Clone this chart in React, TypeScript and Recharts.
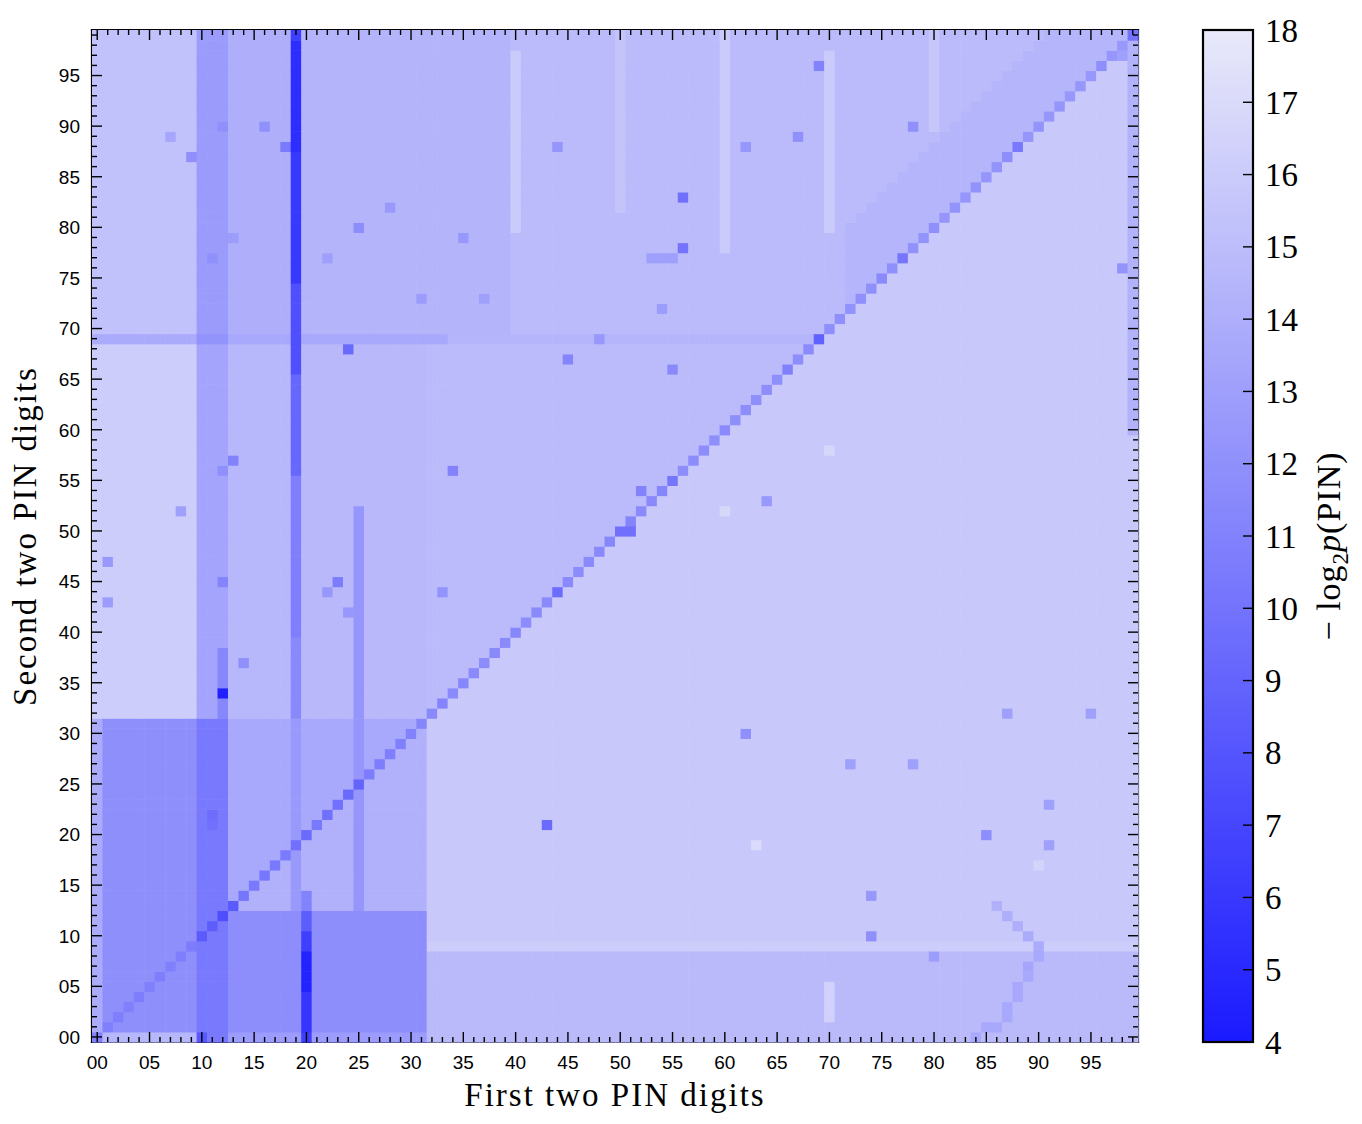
import React from "react";
import { ScatterChart, Scatter, XAxis, YAxis, ReferenceArea, Label } from "recharts";

// ---------- categories / ticks ----------
const PIN_PAIRS: number[] = Array.from({ length: 100 }, (_, i) => i); // 00 .. 99
const AXIS_TICK_LABELS = ["00", "05", "10", "15", "20", "25", "30", "35", "40", "45", "50", "55", "60", "65", "70", "75", "80", "85", "90", "95"];
const COLORBAR_TICKS = [4, 5, 6, 7, 8, 9, 10, 11, 12, 13, 14, 15, 16, 17, 18];
const COLOR_MIN = 4;
const COLOR_MAX = 18;
const COLOR_LOW = [26, 26, 255];
const COLOR_HIGH = [233, 233, 250];

// ---------- values of -log2 p(PIN) ----------
const BASE_ABOVE_DIAGONAL = 14.9; // second pair > first pair
const BASE_BELOW_DIAGONAL = 15.8; // second pair < first pair

// [x0, x1, y0, y1, value, side] (inclusive ranges; applied in order)
const REGIONS: Array<[number, number, number, number, number, string]> = [
  [0, 9, 69, 99, 15.3, "all"],
  [0, 9, 32, 68, 16.1, "all"],
  [10, 12, 70, 99, 12.7, "all"],
  [10, 12, 32, 69, 13.3, "all"],
  [12, 12, 32, 38, 11.4, "all"],
  [13, 18, 70, 99, 14.0, "all"],
  [13, 18, 32, 69, 14.6, "all"],
  [20, 39, 70, 99, 14.4, "above"],
  [20, 31, 32, 69, 14.7, "above"],
  [13, 31, 13, 31, 13.6, "above"],
  [13, 31, 13, 31, 14.2, "below"],
  [0, 0, 1, 31, 13.8, "all"],
  [1, 9, 1, 31, 11.9, "all"],
  [1, 9, 0, 0, 14.6, "all"],
  [10, 12, 0, 31, 10.4, "all"],
  [13, 31, 1, 12, 11.8, "all"],
  [13, 31, 0, 0, 12.8, "all"],
  [25, 25, 13, 52, 12.3, "all"],
  [32, 99, 0, 8, 14.8, "all"],
  [32, 99, 9, 9, 16.1, "all"],
  [0, 9, 69, 69, 13.8, "all"],
  [10, 12, 69, 69, 12.2, "all"],
  [13, 33, 69, 69, 13.6, "all"],
  [34, 68, 69, 69, 14.5, "all"],
  [40, 40, 80, 97, 15.9, "all"],
  [50, 50, 82, 99, 15.5, "all"],
  [60, 60, 78, 99, 16.0, "all"],
  [70, 70, 80, 97, 16.0, "all"],
  [80, 80, 90, 99, 15.6, "all"],
  [99, 99, 60, 99, 14.3, "all"],
  [19, 19, 13, 31, 12.6, "all"],
  [19, 19, 32, 39, 11.5, "all"],
  [19, 19, 40, 55, 10.8, "all"],
  [19, 19, 56, 65, 9.2, "all"],
  [19, 19, 66, 74, 7.6, "all"],
  [19, 19, 75, 87, 6.0, "all"],
  [19, 19, 88, 98, 5.3, "all"],
  [19, 19, 99, 99, 6.5, "all"],
  [20, 20, 0, 0, 6.5, "all"],
  [20, 20, 1, 4, 5.8, "all"],
  [20, 20, 5, 8, 4.6, "all"],
  [20, 20, 9, 10, 6.5, "all"],
  [20, 20, 11, 12, 8.5, "all"],
  [20, 20, 13, 14, 11.0, "all"],
];

// [x0, x1, minimum (y - x), maximum (y - x), value]
const DIAGONAL_BANDS: Array<[number, number, number, number, number]> = [
  [72, 99, 1, 8, 14.5],
];

// value of the cell (i, i)
const DIAGONAL_VALUES = [
  11.0, 10.9, 10.8, 10.9, 10.7, 10.9, 10.8, 10.9, 10.8, 10.6,
  8.4, 8.5, 7.5, 8.3, 10.2, 10.4, 10.3, 10.4, 10.5, 9.8,
  9.4, 10.4, 9.8, 9.9, 9.4, 9.0, 10.6, 10.7, 10.8, 10.9,
  11.0, 11.3, 11.5, 11.2, 11.6, 11.4, 11.6, 11.7, 11.5, 11.6,
  11.4, 11.7, 11.6, 11.6, 9.6, 11.5, 11.7, 11.6, 11.5, 11.4,
  9.8, 11.2, 11.6, 11.5, 11.3, 10.2, 11.8, 11.7, 11.8, 11.9,
  11.6, 11.9, 11.8, 11.9, 11.8, 11.9, 10.9, 11.8, 11.6, 8.8,
  11.9, 12.0, 12.1, 12.0, 12.0, 11.6, 12.0, 10.2, 12.1, 12.2,
  12.0, 12.3, 12.2, 12.3, 12.1, 12.3, 12.2, 11.8, 10.4, 12.3,
  12.2, 12.4, 12.3, 12.5, 12.4, 12.5, 11.9, 12.4, 12.5, 10.0,
];

// [x, y, value] single cells that stand out
const CELL_SPOTS: Array<[number, number, number]> = [
  [12, 34, 4.4], [24, 68, 9.4], [18, 88, 10.5], [9, 87, 12.0], [16, 90, 12.0],
  [25, 80, 11.8], [23, 45, 10.6], [13, 57, 11.0], [12, 45, 11.2], [34, 56, 11.0],
  [52, 54, 11.0], [45, 67, 11.2], [55, 66, 11.5], [56, 83, 9.8], [56, 78, 10.0],
  [43, 21, 9.4], [62, 30, 12.0], [74, 10, 12.0], [85, 20, 11.8], [63, 19, 17.0],
  [69, 96, 11.0], [67, 89, 12.0], [78, 90, 12.0], [62, 88, 12.4], [98, 76, 12.2],
  [51, 50, 9.8], [10, 0, 8.2], [11, 21, 9.8], [11, 22, 9.6], [1, 47, 12.6],
  [33, 44, 12.2], [64, 53, 12.6], [0, 0, 11.0], [44, 88, 12.3], [35, 79, 12.5],
  [53, 77, 13.0], [54, 77, 13.0], [55, 77, 13.0], [48, 69, 12.5], [37, 73, 13.0],
  [54, 72, 12.8], [98, 97, 13.0], [1, 43, 12.8], [8, 52, 13.0], [22, 44, 12.5],
  [24, 42, 12.5], [14, 37, 12.0], [12, 56, 12.0], [28, 82, 12.6], [31, 73, 12.8],
  [13, 79, 12.8], [12, 90, 12.0], [22, 77, 13.0], [11, 77, 12.0], [7, 89, 13.5],
  [74, 14, 12.5], [80, 8, 12.8], [91, 19, 13.0], [91, 23, 13.0], [72, 27, 13.0],
  [78, 27, 13.0], [87, 32, 13.0], [95, 32, 13.0], [60, 52, 16.8], [70, 58, 16.8],
  [90, 17, 16.6], [70, 2, 16.4], [70, 3, 16.4], [70, 4, 16.4], [70, 5, 16.4],
  [84, 0, 13.6], [85, 1, 13.6], [86, 1, 13.6], [87, 2, 13.6], [87, 3, 13.6],
  [88, 4, 13.6], [88, 5, 13.6], [89, 6, 13.6], [89, 7, 13.4], [90, 8, 13.6],
  [90, 9, 13.8], [89, 10, 13.8], [88, 11, 14.0], [87, 12, 14.0], [86, 13, 14.2],
];

// ---------- layout ----------
const CHART_W = 1346;
const CHART_H = 1106;
const PLOT_LEFT = 84;
const PLOT_TOP = 22;
const PLOT_W = 1046;
const PLOT_H = 1012;
const CELL_W = PLOT_W / 100;
const CELL_H = PLOT_H / 100;
const CBAR_W = 222;

const SANS = "'Liberation Sans', Arial, Helvetica, sans-serif";
const SERIF = "'Liberation Serif', 'Times New Roman', serif";

function colorFor(v: number): string {
  let t = (v - COLOR_MIN) / (COLOR_MAX - COLOR_MIN);
  t = Math.max(0, Math.min(1, t));
  const c = COLOR_LOW.map((lo, k) => Math.round(lo + (COLOR_HIGH[k] - lo) * t));
  return `rgb(${c[0]},${c[1]},${c[2]})`;
}

function cellValue(x: number, y: number): number {
  let v = y > x ? BASE_ABOVE_DIAGONAL : BASE_BELOW_DIAGONAL;
  for (const [x0, x1, d0, d1, val] of DIAGONAL_BANDS) {
    const d = y - x;
    if (x >= x0 && x <= x1 && d >= d0 && d <= d1) v = val;
  }
  for (const [x0, x1, y0, y1, val, side] of REGIONS) {
    if (x < x0 || x > x1 || y < y0 || y > y1) continue;
    if (side === "above" && !(y > x)) continue;
    if (side === "below" && !(y < x)) continue;
    v = val;
  }
  if (x === y) v = DIAGONAL_VALUES[x];
  for (const [sx, sy, val] of CELL_SPOTS) {
    if (sx === x && sy === y) v = val;
  }
  return v;
}

const CELLS = PIN_PAIRS.flatMap((x) =>
  PIN_PAIRS.map((y) => ({ x: x + 0.5, y: y + 0.5, v: cellValue(x, y) }))
);

const AXIS_TICKS = PIN_PAIRS.map((d) => d + 0.5);
const FRAME_POINTS = [{ x: 0.5, y: 0.5 }, { x: 99.5, y: 99.5 }];
const COLORBAR_POINTS = COLORBAR_TICKS.map((v) => ({ x: 0.5, y: v }));

const renderCell = (props: any) => {
  const { cx, cy, payload } = props;
  if (cx == null || cy == null) return <g />;
  return (
    <rect
      x={cx - CELL_W / 2}
      y={cy - CELL_H / 2}
      width={CELL_W + 0.6}
      height={CELL_H + 0.6}
      fill={colorFor(payload.v)}
    />
  );
};

const renderNothing = () => <g />;

function tickIndex(value: number) {
  return Math.round(value - 0.5);
}

const BottomTick = (props: any) => {
  const { x, y, payload } = props;
  const i = tickIndex(payload.value);
  const major = i % 5 === 0;
  return (
    <g>
      <line x1={x} y1={y} x2={x} y2={y - (major ? 10 : 5)} stroke="#000" strokeWidth={1.4} />
      {major && (
        <text x={x} y={y + 27} textAnchor="middle" fontFamily={SANS} fontSize={19} fill="#000">
          {AXIS_TICK_LABELS[i / 5]}
        </text>
      )}
    </g>
  );
};

const TopTick = (props: any) => {
  const { x, y, payload } = props;
  const i = tickIndex(payload.value);
  const major = i % 5 === 0;
  return <line x1={x} y1={y} x2={x} y2={y + (major ? 10 : 5)} stroke="#000" strokeWidth={1.4} />;
};

const LeftTick = (props: any) => {
  const { x, y, payload } = props;
  const i = tickIndex(payload.value);
  const major = i % 5 === 0;
  return (
    <g>
      <line x1={x} y1={y} x2={x + (major ? 10 : 5)} y2={y} stroke="#000" strokeWidth={1.4} />
      {major && (
        <text x={x - 12} y={y} dy="0.36em" textAnchor="end" fontFamily={SANS} fontSize={19} fill="#000">
          {AXIS_TICK_LABELS[i / 5]}
        </text>
      )}
    </g>
  );
};

const RightTick = (props: any) => {
  const { x, y, payload } = props;
  const i = tickIndex(payload.value);
  const major = i % 5 === 0;
  return <line x1={x} y1={y} x2={x - (major ? 10 : 5)} y2={y} stroke="#000" strokeWidth={1.4} />;
};

const ColorbarTick = (props: any) => {
  const { x, y, payload } = props;
  return (
    <g>
      <line x1={x} y1={y} x2={x - 10} y2={y} stroke="#000" strokeWidth={1.4} />
      <text x={x + 12} y={y} dy="0.35em" textAnchor="start" fontFamily={SERIF} fontSize={33} fill="#000">
        {payload.value}
      </text>
    </g>
  );
};

const XTitle = (props: any) => {
  const vb = props.viewBox || {};
  return (
    <text
      x={vb.x + vb.width / 2}
      y={vb.y + vb.height}
      textAnchor="middle"
      fontFamily={SERIF}
      fontSize={33}
      letterSpacing={2}
      fill="#000"
    >
      First two PIN digits
    </text>
  );
};

const YTitle = (props: any) => {
  const vb = props.viewBox || {};
  const cx = vb.x + 14;
  const cy = vb.y + vb.height / 2;
  return (
    <text
      x={cx}
      y={cy}
      transform={`rotate(-90 ${cx} ${cy})`}
      textAnchor="middle"
      fontFamily={SERIF}
      fontSize={33}
      letterSpacing={2}
      fill="#000"
    >
      Second two PIN digits
    </text>
  );
};

const ColorbarTitle = (props: any) => {
  const vb = props.viewBox || {};
  const cx = vb.x + 87;
  const cy = vb.y + vb.height / 2 + 10;
  return (
    <text
      x={cx}
      y={cy}
      transform={`rotate(-90 ${cx} ${cy})`}
      textAnchor="middle"
      fontFamily={SERIF}
      fontSize={34}
      letterSpacing={1}
      fill="#000"
    >
      <tspan>− log</tspan>
      <tspan fontSize={23} dy={8}>2</tspan>
      <tspan dy={-8} fontStyle="italic">p</tspan>
      <tspan>(PIN)</tspan>
    </text>
  );
};

const ColorbarShape = (props: any) => {
  const { x, y, width, height } = props;
  return (
    <g>
      <defs>
        <linearGradient id="cbarGradient" x1="0" y1="1" x2="0" y2="0">
          {COLORBAR_TICKS.map((v) => (
            <stop
              key={v}
              offset={`${((v - COLOR_MIN) / (COLOR_MAX - COLOR_MIN)) * 100}%`}
              stopColor={colorFor(v)}
            />
          ))}
        </linearGradient>
      </defs>
      <rect x={x} y={y} width={width} height={height} fill="url(#cbarGradient)" stroke="#000" strokeWidth={2.2} />
    </g>
  );
};

const axisLineStyle = { stroke: "#000", strokeWidth: 2.2, strokeLinecap: "square" as const };

export default function App() {
  return (
    <div style={{ position: "relative", width: CHART_W, height: CHART_H, background: "#fff" }}>
      <ScatterChart
        width={CHART_W}
        height={CHART_H}
        margin={{ top: PLOT_TOP - 2, right: CHART_W - PLOT_LEFT - PLOT_W - 2, bottom: 8, left: 14 }}
      >
        <Scatter data={CELLS} shape={renderCell} isAnimationActive={false} />
        <Scatter data={FRAME_POINTS} xAxisId="top" yAxisId="right" shape={renderNothing} isAnimationActive={false} />
        <XAxis
          xAxisId={0}
          type="number"
          dataKey="x"
          domain={[0, 100]}
          ticks={AXIS_TICKS}
          interval={0}
          tick={BottomTick}
          tickSize={0}
          tickMargin={0}
          tickLine={false}
          axisLine={axisLineStyle}
          height={CHART_H - 8 - (PLOT_TOP + PLOT_H)}
        >
          <Label content={XTitle} />
        </XAxis>
        <XAxis
          xAxisId="top"
          orientation="top"
          type="number"
          dataKey="x"
          domain={[0, 100]}
          ticks={AXIS_TICKS}
          interval={0}
          tick={TopTick}
          tickSize={0}
          tickMargin={0}
          tickLine={false}
          axisLine={axisLineStyle}
          height={2}
        />
        <YAxis
          yAxisId={0}
          type="number"
          dataKey="y"
          domain={[0, 100]}
          ticks={AXIS_TICKS}
          interval={0}
          tick={LeftTick}
          tickSize={0}
          tickMargin={0}
          tickLine={false}
          axisLine={axisLineStyle}
          width={PLOT_LEFT - 14}
        >
          <Label content={YTitle} />
        </YAxis>
        <YAxis
          yAxisId="right"
          orientation="right"
          type="number"
          dataKey="y"
          domain={[0, 100]}
          ticks={AXIS_TICKS}
          interval={0}
          tick={RightTick}
          tickSize={0}
          tickMargin={0}
          tickLine={false}
          axisLine={axisLineStyle}
          width={2}
        />
      </ScatterChart>
      <div style={{ position: "absolute", left: PLOT_LEFT + PLOT_W, top: 0 }}>
        <ScatterChart
          width={CBAR_W}
          height={CHART_H}
          margin={{ top: PLOT_TOP, right: CBAR_W - 65 - 50 - 100, bottom: CHART_H - PLOT_TOP - PLOT_H, left: 65 }}
        >
          <XAxis type="number" dataKey="x" domain={[0, 1]} hide />
          <YAxis
            orientation="right"
            type="number"
            dataKey="y"
            domain={[COLOR_MIN, COLOR_MAX]}
            ticks={COLORBAR_TICKS}
            interval={0}
            tick={ColorbarTick}
            tickSize={0}
            tickMargin={0}
            tickLine={false}
            axisLine={false}
            width={100}
          >
            <Label content={ColorbarTitle} />
          </YAxis>
          <ReferenceArea x1={0} x2={1} y1={COLOR_MIN} y2={COLOR_MAX} shape={ColorbarShape} ifOverflow="visible" />
          <Scatter data={COLORBAR_POINTS} shape={renderNothing} isAnimationActive={false} />
        </ScatterChart>
      </div>
    </div>
  );
}
